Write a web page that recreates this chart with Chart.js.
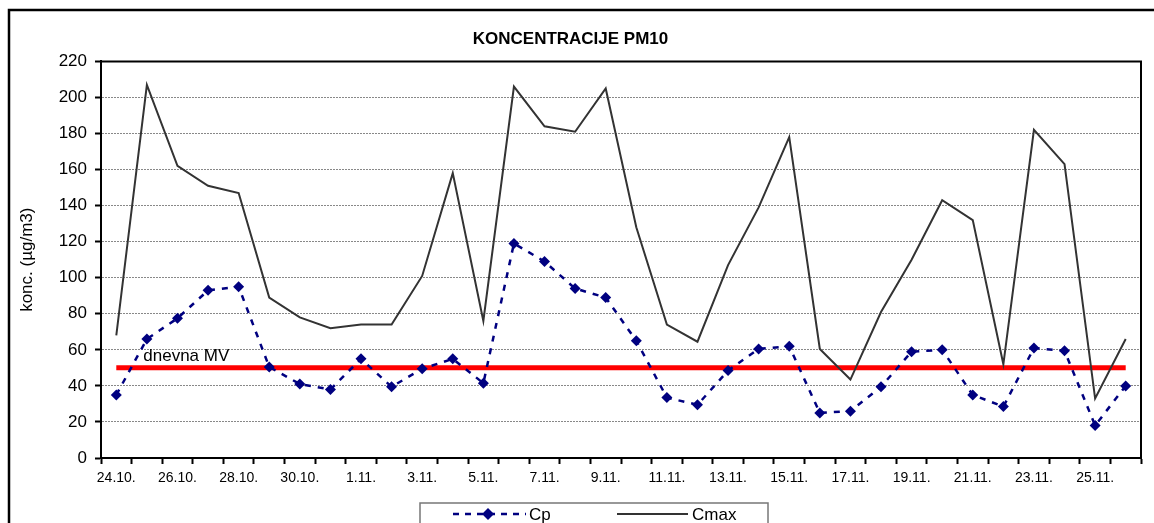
<!DOCTYPE html>
<html>
<head>
<meta charset="utf-8">
<script src="https://cdn.jsdelivr.net/npm/chart.js@4.4.1/dist/chart.umd.min.js"></script>
<style>
  html, body { margin: 0; padding: 0; background: #fff; }
  #wrap { width: 1154px; height: 523px; }
</style>
</head>
<body>
<div id="wrap"><canvas id="chartPM10" width="1154" height="523"></canvas></div>
<script>
// Podatki
const dnevi = ["24.10.", "25.10.", "26.10.", "27.10.", "28.10.", "29.10.", "30.10.", "31.10.",
  "1.11.", "2.11.", "3.11.", "4.11.", "5.11.", "6.11.", "7.11.", "8.11.", "9.11.", "10.11.",
  "11.11.", "12.11.", "13.11.", "14.11.", "15.11.", "16.11.", "17.11.", "18.11.", "19.11.",
  "20.11.", "21.11.", "22.11.", "23.11.", "24.11.", "25.11.", "26.11."];
const cp = [35, 66, 77.5, 93, 95, 50.5, 41, 38, 55, 39.5, 49.5, 55, 41.5, 119, 109, 94, 89, 65,
  33.5, 29.5, 48.5, 60.5, 62, 25, 26, 39.5, 59, 60, 35, 28.5, 61, 59.5, 18, 40];
const cmax = [68, 207, 162, 151, 147, 89, 78, 72, 74, 74, 101, 158, 76, 206, 184, 181, 205, 128,
  74, 64.5, 107, 139, 178, 60.5, 43.5, 81, 110, 143, 132, 52, 182, 163, 33, 66];
const mejnaVrednost = 50;
const mv = dnevi.map(() => mejnaVrednost);

const FONT = "Arial, 'Liberation Sans', sans-serif";

// okvir, oznaka MV in legenda
const okvir = {
  id: "okvir",
  afterDraw(chart) {
    const c = chart.ctx;
    const a = chart.chartArea;
    const x = chart.scales.x, y = chart.scales.y;
    c.save();
    // zunanji okvir
    c.strokeStyle = "#000";
    c.lineWidth = 2.5;
    c.strokeRect(9, 10, 1160, 540);
    // zgornji in desni rob grafa
    c.lineWidth = 2;
    c.beginPath();
    c.moveTo(a.left, a.top);
    c.lineTo(a.right, a.top);
    c.lineTo(a.right, a.bottom);
    c.stroke();
    // oznaka dnevna MV
    c.fillStyle = "#000";
    c.font = "17px " + FONT;
    c.textBaseline = "alphabetic";
    c.fillText("dnevna MV", x.getPixelForValue(0) + 27, y.getPixelForValue(mejnaVrednost) - 7);
    // legenda
    c.strokeStyle = "#777";
    c.lineWidth = 1.5;
    c.strokeRect(420, 503, 348, 40);
    const ly = 514;
    c.strokeStyle = "#000080";
    c.lineWidth = 2.5;
    c.setLineDash([6, 6]);
    c.beginPath();
    c.moveTo(453, ly); c.lineTo(526, ly);
    c.stroke();
    c.setLineDash([]);
    c.fillStyle = "#000080";
    c.beginPath();
    c.moveTo(488, ly - 6); c.lineTo(494, ly); c.lineTo(488, ly + 6); c.lineTo(482, ly);
    c.closePath(); c.fill();
    c.strokeStyle = "#333";
    c.lineWidth = 2;
    c.beginPath();
    c.moveTo(617, ly); c.lineTo(688, ly);
    c.stroke();
    c.fillStyle = "#000";
    c.textBaseline = "middle";
    c.fillText("Cp", 529, ly + 1);
    c.fillText("Cmax", 692, ly + 1);
    c.restore();
  }
};

new Chart(document.getElementById("chartPM10"), {
  type: "line",
  data: {
    labels: dnevi,
    datasets: [
      {
        label: "dnevna MV",
        data: mv,
        borderColor: "#ff0000",
        borderWidth: 5,
        pointRadius: 0,
        order: 3
      },
      {
        label: "Cmax",
        data: cmax,
        borderColor: "#333333",
        borderWidth: 2,
        pointRadius: 0,
        tension: 0,
        order: 2
      },
      {
        label: "Cp",
        data: cp,
        borderColor: "#000080",
        backgroundColor: "#000080",
        borderWidth: 2.5,
        borderDash: [6, 7],
        pointStyle: "rectRot",
        pointRadius: 5.5,
        pointBorderWidth: 0,
        tension: 0,
        order: 1
      }
    ]
  },
  options: {
    responsive: false,
    animation: false,
    layout: { padding: { left: 0, right: 13, top: 3, bottom: 0 } },
    plugins: {
      legend: { display: false },
      tooltip: { enabled: false },
      title: {
        display: true,
        text: "KONCENTRACIJE PM10",
        color: "#000",
        font: { family: FONT, size: 17, weight: "bold" },
        padding: { top: 26, bottom: 12 }
      }
    },
    scales: {
      x: {
        offset: true,
        afterFit: s => { s.height = 65; },
        grid: {
          offset: true,
          drawOnChartArea: false,
          drawTicks: true,
          tickLength: 6,
          tickWidth: 2,
          tickColor: "#000"
        },
        border: { color: "#000", width: 2 },
        ticks: {
          autoSkip: false,
          maxRotation: 0,
          padding: 6,
          color: "#000",
          font: { family: FONT, size: 14 },
          callback: function (v, i) { return i % 2 === 0 ? this.getLabelForValue(v) : ""; }
        }
      },
      y: {
        min: 0,
        max: 220,
        afterFit: s => { s.width = 101; },
        grid: {
          color: "#888",
          lineWidth: 1,
          tickLength: 6,
          tickColor: "#000",
          tickWidth: 2,
          tickBorderDash: []
        },
        border: { color: "#000", width: 2, dash: [2, 1] },
        ticks: {
          stepSize: 20,
          padding: 8,
          color: "#000",
          font: { family: FONT, size: 17 }
        },
        title: {
          display: true,
          text: "konc. (µg/m3)",
          color: "#000",
          font: { family: FONT, size: 17 },
          padding: { top: 17, bottom: 0 }
        }
      }
    }
  },
  plugins: [okvir]
});
</script>
</body>
</html>
